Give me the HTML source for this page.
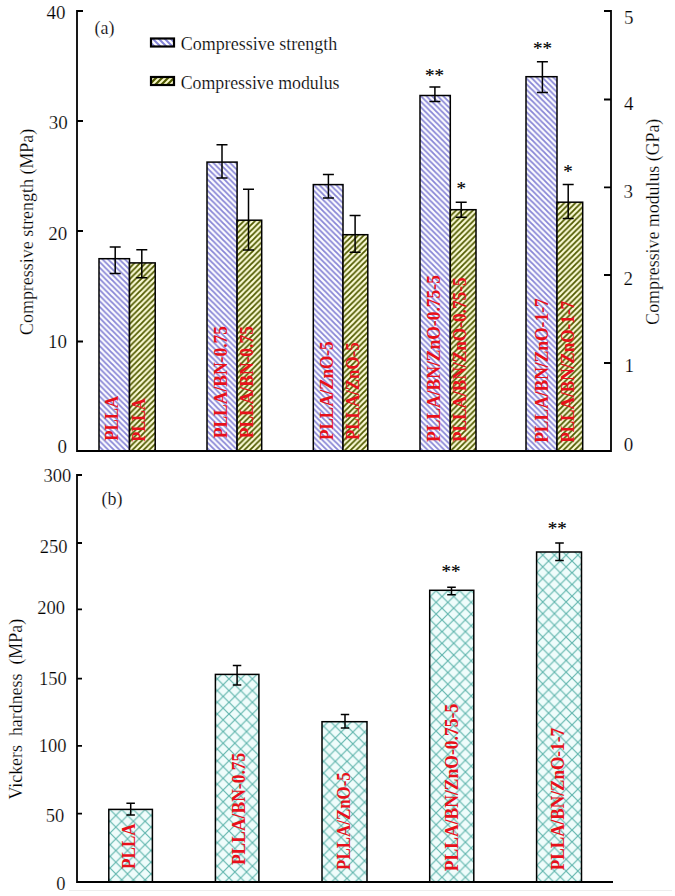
<!DOCTYPE html>
<html><head><meta charset="utf-8"><style>
html,body{margin:0;padding:0;background:#fff;}
svg{display:block;}
text{font-family:"Liberation Serif", serif;}
.t{stroke:#fff;stroke-width:0.2px;paint-order:fill stroke;}
</style></head><body>
<svg width="675" height="896" viewBox="0 0 675 896">
<defs>
<pattern id="pb" width="5.6" height="5.6" patternUnits="userSpaceOnUse">
<rect width="5.6" height="5.6" fill="#fdfdff"/>
<path d="M-2,-2 L7.6,7.6 M-2,3.5999999999999996 L2,7.6 M3.5999999999999996,-2 L7.6,2" stroke="#8886d6" stroke-width="1.8"/>
</pattern>
<pattern id="py" width="5.6" height="5.6" patternUnits="userSpaceOnUse">
<rect width="5.6" height="5.6" fill="#fbfbd6"/>
<path d="M-2,7.6 L7.6,-2 M-2,2 L2,-2 M3.5999999999999996,7.6 L7.6,3.5999999999999996" stroke="#505a00" stroke-width="1.8"/>
</pattern>
<pattern id="pc0" width="11.7" height="11.7" patternUnits="userSpaceOnUse" x="4.70" y="2.30">
<rect width="11.7" height="11.7" fill="#effcfb"/>
<path d="M-1,-1 L12.7,12.7 M12.7,-1 L-1,12.7" stroke="#62b6ae" stroke-width="1.2"/>
</pattern>
<pattern id="pc1" width="11.7" height="11.7" patternUnits="userSpaceOnUse" x="6.70" y="0.30">
<rect width="11.7" height="11.7" fill="#effcfb"/>
<path d="M-1,-1 L12.7,12.7 M12.7,-1 L-1,12.7" stroke="#62b6ae" stroke-width="1.2"/>
</pattern>
<pattern id="pc2" width="11.7" height="11.7" patternUnits="userSpaceOnUse" x="7.70" y="0.90">
<rect width="11.7" height="11.7" fill="#effcfb"/>
<path d="M-1,-1 L12.7,12.7 M12.7,-1 L-1,12.7" stroke="#62b6ae" stroke-width="1.2"/>
</pattern>
<pattern id="pc3" width="11.7" height="11.7" patternUnits="userSpaceOnUse" x="9.10" y="11.50">
<rect width="11.7" height="11.7" fill="#effcfb"/>
<path d="M-1,-1 L12.7,12.7 M12.7,-1 L-1,12.7" stroke="#62b6ae" stroke-width="1.2"/>
</pattern>
<pattern id="pc4" width="11.7" height="11.7" patternUnits="userSpaceOnUse" x="10.40" y="11.10">
<rect width="11.7" height="11.7" fill="#effcfb"/>
<path d="M-1,-1 L12.7,12.7 M12.7,-1 L-1,12.7" stroke="#62b6ae" stroke-width="1.2"/>
</pattern>

<pattern id="pbl" width="6" height="6" patternUnits="userSpaceOnUse">
<rect width="6" height="6" fill="#ffffff"/>
<path d="M-1,-1 L7,7 M-1,5 L1,7 M5,-1 L7,1" stroke="#8585d8" stroke-width="2"/>
</pattern>
<pattern id="pyl" width="6" height="6" patternUnits="userSpaceOnUse">
<rect width="6" height="6" fill="#fbfbc8"/>
<path d="M-1,7 L7,-1 M-1,1 L1,-1 M5,7 L7,5" stroke="#4e5800" stroke-width="2.2"/>
</pattern>
</defs>
<rect width="675" height="896" fill="#fff"/>

<rect x="99.0" y="258.7" width="30.5" height="192.3" fill="url(#pb)" stroke="#000" stroke-width="1.5"/>
<rect x="129.5" y="262.9" width="25.7" height="188.1" fill="url(#py)" stroke="#000" stroke-width="1.5"/>
<rect x="207.0" y="162.1" width="30.1" height="288.9" fill="url(#pb)" stroke="#000" stroke-width="1.5"/>
<rect x="237.1" y="220.2" width="24.6" height="230.8" fill="url(#py)" stroke="#000" stroke-width="1.5"/>
<rect x="313.3" y="184.6" width="29.7" height="266.4" fill="url(#pb)" stroke="#000" stroke-width="1.5"/>
<rect x="343.0" y="234.7" width="24.8" height="216.3" fill="url(#py)" stroke="#000" stroke-width="1.5"/>
<rect x="420.0" y="95.5" width="30.3" height="355.5" fill="url(#pb)" stroke="#000" stroke-width="1.5"/>
<rect x="450.3" y="209.7" width="25.7" height="241.3" fill="url(#py)" stroke="#000" stroke-width="1.5"/>
<rect x="526.0" y="76.7" width="31.0" height="374.3" fill="url(#pb)" stroke="#000" stroke-width="1.5"/>
<rect x="557.0" y="202.2" width="25.7" height="248.8" fill="url(#py)" stroke="#000" stroke-width="1.5"/>
<text transform="translate(117.6,440.7) rotate(-90)" font-size="19" font-weight="bold" fill="#e8101a" textLength="45.0" lengthAdjust="spacingAndGlyphs">PLLA</text>
<text transform="translate(145.1,441.7) rotate(-90)" font-size="19" font-weight="bold" fill="#e8101a" textLength="43.4" lengthAdjust="spacingAndGlyphs">PLLA</text>
<text transform="translate(226.8,438.3) rotate(-90)" font-size="19" font-weight="bold" fill="#e8101a" textLength="112.4" lengthAdjust="spacingAndGlyphs">PLLA/BN-0.75</text>
<text transform="translate(252.7,438.3) rotate(-90)" font-size="19" font-weight="bold" fill="#e8101a" textLength="112.3" lengthAdjust="spacingAndGlyphs">PLLA/BN-0.75</text>
<text transform="translate(332.7,440.0) rotate(-90)" font-size="19" font-weight="bold" fill="#e8101a" textLength="98.5" lengthAdjust="spacingAndGlyphs">PLLA/ZnO-5</text>
<text transform="translate(358.6,440.0) rotate(-90)" font-size="19" font-weight="bold" fill="#e8101a" textLength="97.7" lengthAdjust="spacingAndGlyphs">PLLA/ZnO-5</text>
<text transform="translate(439.7,442.0) rotate(-90)" font-size="19" font-weight="bold" fill="#e8101a" textLength="166.9" lengthAdjust="spacingAndGlyphs">PLLA/BN/ZnO-0.75-5</text>
<text transform="translate(466.0,442.0) rotate(-90)" font-size="19" font-weight="bold" fill="#e8101a" textLength="164.6" lengthAdjust="spacingAndGlyphs">PLLA/BN/ZnO-0.75-5</text>
<text transform="translate(547.5,442.8) rotate(-90)" font-size="19" font-weight="bold" fill="#e8101a" textLength="144.5" lengthAdjust="spacingAndGlyphs">PLLA/BN/ZnO-1-7</text>
<text transform="translate(573.5,442.8) rotate(-90)" font-size="19" font-weight="bold" fill="#e8101a" textLength="142.0" lengthAdjust="spacingAndGlyphs">PLLA/BN/ZnO-1-7</text>
<path d="M115.2,246.9 V273.4 M109.7,246.9 H120.7 M109.7,273.4 H120.7" stroke="#000" stroke-width="1.5" fill="none"/>
<path d="M141.8,249.7 V277.7 M136.3,249.7 H147.3 M136.3,277.7 H147.3" stroke="#000" stroke-width="1.5" fill="none"/>
<path d="M222.0,144.8 V178.1 M216.5,144.8 H227.5 M216.5,178.1 H227.5" stroke="#000" stroke-width="1.5" fill="none"/>
<path d="M248.5,189.2 V250.0 M243.0,189.2 H254.0 M243.0,250.0 H254.0" stroke="#000" stroke-width="1.5" fill="none"/>
<path d="M328.4,174.5 V197.9 M322.9,174.5 H333.9 M322.9,197.9 H333.9" stroke="#000" stroke-width="1.5" fill="none"/>
<path d="M355.1,215.6 V252.2 M349.6,215.6 H360.6 M349.6,252.2 H360.6" stroke="#000" stroke-width="1.5" fill="none"/>
<path d="M434.9,87.0 V101.5 M429.4,87.0 H440.4 M429.4,101.5 H440.4" stroke="#000" stroke-width="1.5" fill="none"/>
<path d="M461.2,202.3 V217.2 M455.7,202.3 H466.7 M455.7,217.2 H466.7" stroke="#000" stroke-width="1.5" fill="none"/>
<path d="M542.4,61.7 V92.5 M536.9,61.7 H547.9 M536.9,92.5 H547.9" stroke="#000" stroke-width="1.5" fill="none"/>
<path d="M568.2,184.5 V218.6 M562.7,184.5 H573.7 M562.7,218.6 H573.7" stroke="#000" stroke-width="1.5" fill="none"/>
<path d="M83,11 H77 V451 H611 V11 H604 M77,121 H83 M77,231 H83 M77,341.5 H83 M604,99.5 H611 M604,187.3 H611 M604,275 H611 M604,363 H611" stroke="#000" stroke-width="1.8" fill="none"/>
<text x="65.5" y="19.2" class="t" font-size="19" text-anchor="end" fill="#000">40</text>
<text x="67.8" y="129.4" class="t" font-size="19" text-anchor="end" fill="#000">30</text>
<text x="67.2" y="240.3" class="t" font-size="19" text-anchor="end" fill="#000">20</text>
<text x="67" y="348.2" class="t" font-size="19" text-anchor="end" fill="#000">10</text>
<text x="67.1" y="453.2" class="t" font-size="19" text-anchor="end" fill="#000">0</text>
<text x="624" y="23.9" class="t" font-size="19" fill="#000">5</text>
<text x="624" y="109.7" class="t" font-size="19" fill="#000">4</text>
<text x="623.5" y="198.2" class="t" font-size="19" fill="#000">3</text>
<text x="623.5" y="285.0" class="t" font-size="19" fill="#000">2</text>
<text x="624.5" y="372.4" class="t" font-size="19" fill="#000">1</text>
<text x="623.8" y="451.0" class="t" font-size="19" fill="#000">0</text>
<text transform="translate(33,335) rotate(-90)" class="t" font-size="19" fill="#000" textLength="206.3" lengthAdjust="spacingAndGlyphs">Compressive strength (MPa)</text>
<text transform="translate(658.7,324.7) rotate(-90)" class="t" font-size="19" fill="#000" textLength="206" lengthAdjust="spacingAndGlyphs">Compressive modulus (GPa)</text>
<text x="94.5" y="34.3" class="t" font-size="18" fill="#000">(a)</text>
<rect x="151" y="38.5" width="23" height="8" fill="url(#pbl)" stroke="#000" stroke-width="2.2"/>
<rect x="151" y="77" width="23" height="8" fill="url(#pyl)" stroke="#000" stroke-width="2.2"/>
<text x="180.7" y="50.3" class="t" font-size="19" fill="#000" textLength="156.5" lengthAdjust="spacingAndGlyphs">Compressive strength</text>
<text x="180.7" y="88.5" class="t" font-size="19" fill="#000" textLength="158.8" lengthAdjust="spacingAndGlyphs">Compressive modulus</text>
<text x="434.6" y="81.9" font-size="19" text-anchor="middle" fill="#000" stroke="#000" stroke-width="0.15">**</text>
<text x="542.5" y="55.4" font-size="19" text-anchor="middle" fill="#000" stroke="#000" stroke-width="0.15">**</text>
<text x="461.3" y="195.3" font-size="19" text-anchor="middle" fill="#000" stroke="#000" stroke-width="0.15">*</text>
<text x="568.0" y="178.1" font-size="19" text-anchor="middle" fill="#000" stroke="#000" stroke-width="0.15">*</text>
<rect x="108.8" y="809.4" width="43.6" height="72.6" fill="url(#pc0)" stroke="#000" stroke-width="1.5"/>
<rect x="215.4" y="674.4" width="43.5" height="207.6" fill="url(#pc1)" stroke="#000" stroke-width="1.5"/>
<rect x="322.0" y="721.7" width="45.0" height="160.3" fill="url(#pc2)" stroke="#000" stroke-width="1.5"/>
<rect x="429.7" y="590.3" width="44.1" height="291.7" fill="url(#pc3)" stroke="#000" stroke-width="1.5"/>
<rect x="536.6" y="552.0" width="44.9" height="330.0" fill="url(#pc4)" stroke="#000" stroke-width="1.5"/>
<text transform="translate(134.9,868.9) rotate(-90)" font-size="19" font-weight="bold" fill="#e8101a" textLength="45.6" lengthAdjust="spacingAndGlyphs">PLLA</text>
<text transform="translate(244.8,865.1) rotate(-90)" font-size="19" font-weight="bold" fill="#e8101a" textLength="112.4" lengthAdjust="spacingAndGlyphs">PLLA/BN-0.75</text>
<text transform="translate(349.8,869.9) rotate(-90)" font-size="19" font-weight="bold" fill="#e8101a" textLength="97.7" lengthAdjust="spacingAndGlyphs">PLLA/ZnO-5</text>
<text transform="translate(458.0,871.2) rotate(-90)" font-size="19" font-weight="bold" fill="#e8101a" textLength="167.4" lengthAdjust="spacingAndGlyphs">PLLA/BN/ZnO-0.75-5</text>
<text transform="translate(564.4,870.3) rotate(-90)" font-size="19" font-weight="bold" fill="#e8101a" textLength="142.3" lengthAdjust="spacingAndGlyphs">PLLA/BN/ZnO-1-7</text>
<path d="M130.7,803.2 V815.1 M126.4,803.2 H134.9 M126.4,815.1 H134.9" stroke="#000" stroke-width="1.5" fill="none"/>
<path d="M237.1,665.5 V685.0 M232.8,665.5 H241.3 M232.8,685.0 H241.3" stroke="#000" stroke-width="1.5" fill="none"/>
<path d="M345.0,714.5 V727.9 M340.8,714.5 H349.2 M340.8,727.9 H349.2" stroke="#000" stroke-width="1.5" fill="none"/>
<path d="M451.5,587.3 V594.8 M447.2,587.3 H455.8 M447.2,594.8 H455.8" stroke="#000" stroke-width="1.5" fill="none"/>
<path d="M559.5,542.9 V560.5 M555.2,542.9 H563.8 M555.2,560.5 H563.8" stroke="#000" stroke-width="1.5" fill="none"/>
<path d="M82,475 H77 V882 H613 M77,543 H82 M77,609.3 H82 M77,678.6 H82 M77,745.8 H82 M77,813.6 H82" stroke="#000" stroke-width="1.8" fill="none"/>
<path d="M69,890.5 H672" stroke="#ececec" stroke-width="1" fill="none"/>
<text x="71.3" y="481.5" class="t" font-size="18.5" text-anchor="end" fill="#000">300</text>
<text x="67.4" y="552.5" class="t" font-size="18.5" text-anchor="end" fill="#000">250</text>
<text x="65" y="614.3" class="t" font-size="18.5" text-anchor="end" fill="#000">200</text>
<text x="66.8" y="685.4" class="t" font-size="18.5" text-anchor="end" fill="#000">150</text>
<text x="66.4" y="752.2" class="t" font-size="18.5" text-anchor="end" fill="#000">100</text>
<text x="64.3" y="821.9" class="t" font-size="18.5" text-anchor="end" fill="#000">50</text>
<text x="65.6" y="889.8" class="t" font-size="18.5" text-anchor="end" fill="#000">0</text>
<text x="101.5" y="505" class="t" font-size="18" fill="#000">(b)</text>
<text transform="translate(22.4,799.6) rotate(-90)" class="t" font-size="19" fill="#000" textLength="180.7" lengthAdjust="spacingAndGlyphs" xml:space="preserve">Vickers  hardness  (MPa)</text>
<text x="450.9" y="577.9" font-size="19" text-anchor="middle" fill="#000" stroke="#000" stroke-width="0.15">**</text>
<text x="557.3" y="535.2" font-size="19" text-anchor="middle" fill="#000" stroke="#000" stroke-width="0.15">**</text>
</svg>
</body></html>
